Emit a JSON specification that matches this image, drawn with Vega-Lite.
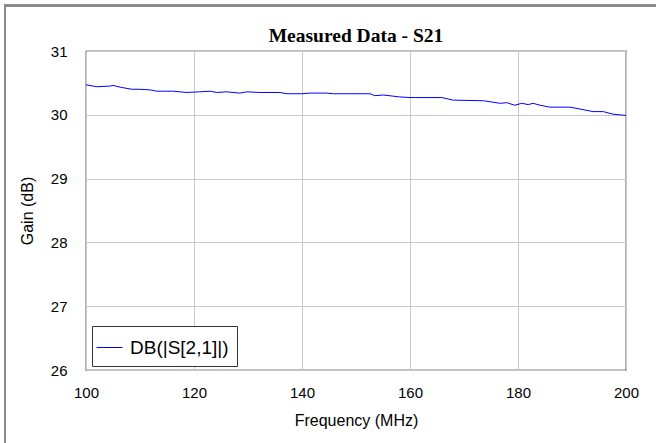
{
  "$schema": "https://vega.github.io/schema/vega-lite/v6.json",
  "width": 540,
  "height": 319,
  "autosize": {"type": "none"},
  "padding": {"left": 86, "top": 51, "right": 30, "bottom": 73},
  "background": "white",
  "title": {
    "text": "Measured Data - S21",
    "font": "Liberation Serif",
    "fontSize": 19.5,
    "fontWeight": "bold",
    "color": "#000",
    "anchor": "middle",
    "offset": -42
  },
  "config": {
    "view": {"stroke": "#000", "strokeWidth": 1.2},
    "axis": {
      "labelFont": "Liberation Sans",
      "titleFont": "Liberation Sans",
      "labelFontSize": 15,
      "titleFontSize": 16,
      "titleFontWeight": "normal",
      "labelColor": "#000",
      "titleColor": "#000",
      "grid": true,
      "gridColor": "#c8c8c8",
      "gridWidth": 1,
      "gridOpacity": 1,
      "labelFlush": false,
      "ticks": false,
      "domain": false
    }
  },
  "data": {
    "values": [
      {"f": 100, "g": 30.47, "series": "DB(|S[2,1]|)"},
      {"f": 102, "g": 30.44, "series": "DB(|S[2,1]|)"},
      {"f": 104.4, "g": 30.45, "series": "DB(|S[2,1]|)"},
      {"f": 105, "g": 30.46, "series": "DB(|S[2,1]|)"},
      {"f": 106.5, "g": 30.43, "series": "DB(|S[2,1]|)"},
      {"f": 108.5, "g": 30.4, "series": "DB(|S[2,1]|)"},
      {"f": 110, "g": 30.4, "series": "DB(|S[2,1]|)"},
      {"f": 111.9, "g": 30.39, "series": "DB(|S[2,1]|)"},
      {"f": 113.1, "g": 30.37, "series": "DB(|S[2,1]|)"},
      {"f": 116.2, "g": 30.37, "series": "DB(|S[2,1]|)"},
      {"f": 118.6, "g": 30.35, "series": "DB(|S[2,1]|)"},
      {"f": 121.1, "g": 30.36, "series": "DB(|S[2,1]|)"},
      {"f": 123, "g": 30.37, "series": "DB(|S[2,1]|)"},
      {"f": 124.2, "g": 30.35, "series": "DB(|S[2,1]|)"},
      {"f": 126, "g": 30.36, "series": "DB(|S[2,1]|)"},
      {"f": 128.5, "g": 30.34, "series": "DB(|S[2,1]|)"},
      {"f": 129.8, "g": 30.36, "series": "DB(|S[2,1]|)"},
      {"f": 132.2, "g": 30.35, "series": "DB(|S[2,1]|)"},
      {"f": 135.9, "g": 30.35, "series": "DB(|S[2,1]|)"},
      {"f": 137.2, "g": 30.33, "series": "DB(|S[2,1]|)"},
      {"f": 139.9, "g": 30.33, "series": "DB(|S[2,1]|)"},
      {"f": 141.5, "g": 30.34, "series": "DB(|S[2,1]|)"},
      {"f": 144.6, "g": 30.34, "series": "DB(|S[2,1]|)"},
      {"f": 145.8, "g": 30.33, "series": "DB(|S[2,1]|)"},
      {"f": 150.7, "g": 30.33, "series": "DB(|S[2,1]|)"},
      {"f": 152.6, "g": 30.33, "series": "DB(|S[2,1]|)"},
      {"f": 153.5, "g": 30.3, "series": "DB(|S[2,1]|)"},
      {"f": 155.1, "g": 30.31, "series": "DB(|S[2,1]|)"},
      {"f": 158.1, "g": 30.28, "series": "DB(|S[2,1]|)"},
      {"f": 160, "g": 30.27, "series": "DB(|S[2,1]|)"},
      {"f": 165.9, "g": 30.27, "series": "DB(|S[2,1]|)"},
      {"f": 168, "g": 30.23, "series": "DB(|S[2,1]|)"},
      {"f": 173.6, "g": 30.22, "series": "DB(|S[2,1]|)"},
      {"f": 176.7, "g": 30.18, "series": "DB(|S[2,1]|)"},
      {"f": 177.9, "g": 30.19, "series": "DB(|S[2,1]|)"},
      {"f": 179.4, "g": 30.15, "series": "DB(|S[2,1]|)"},
      {"f": 180.7, "g": 30.18, "series": "DB(|S[2,1]|)"},
      {"f": 181.9, "g": 30.16, "series": "DB(|S[2,1]|)"},
      {"f": 182.8, "g": 30.18, "series": "DB(|S[2,1]|)"},
      {"f": 184.1, "g": 30.15, "series": "DB(|S[2,1]|)"},
      {"f": 185.9, "g": 30.12, "series": "DB(|S[2,1]|)"},
      {"f": 189.6, "g": 30.12, "series": "DB(|S[2,1]|)"},
      {"f": 191.5, "g": 30.09, "series": "DB(|S[2,1]|)"},
      {"f": 193.9, "g": 30.05, "series": "DB(|S[2,1]|)"},
      {"f": 195.8, "g": 30.05, "series": "DB(|S[2,1]|)"},
      {"f": 197.6, "g": 30.01, "series": "DB(|S[2,1]|)"},
      {"f": 200, "g": 29.99, "series": "DB(|S[2,1]|)"}
    ]
  },
  "layer": [
    {
      "mark": {"type": "line", "strokeWidth": 1, "interpolate": "linear"},
      "encoding": {
        "x": {
          "field": "f",
          "type": "quantitative",
          "scale": {"domain": [100, 200], "nice": false, "zero": false},
          "axis": {
            "title": "Frequency (MHz)",
            "values": [100, 120, 140, 160, 180, 200],
            "format": "d",
            "grid": true,
            "labelFlush": false,
            "labelPadding": 15,
            "titlePadding": 12
          }
        },
        "y": {
          "field": "g",
          "type": "quantitative",
          "scale": {"domain": [26, 31], "nice": false, "zero": false},
          "axis": {
            "title": "Gain (dB)",
            "values": [26, 27, 28, 29, 30, 31],
            "format": "d",
            "grid": true,
            "labelFlush": false,
            "labelPadding": 19,
            "titlePadding": 15
          }
        },
        "color": {
          "field": "series",
          "type": "nominal",
          "scale": {"range": ["#0000ff"]},
          "legend": {
            "title": null,
            "orient": "none",
            "legendX": 6,
            "legendY": 275,
            "fillColor": "#ffffff",
            "strokeColor": "#333333",
            "padding": 8,
            "symbolType": "stroke",
            "symbolSize": 676,
            "symbolStrokeWidth": 1,
            "symbolOffset": -4,
            "labelFont": "Liberation Sans",
            "labelFontSize": 19,
            "labelColor": "#000",
            "labelOffset": 7
          }
        }
      }
    },
    {
      "mark": {"type": "rect", "fillOpacity": 0, "stroke": "#8a8a8a", "strokeWidth": 1.5, "clip": false},
      "encoding": {
        "x": {"datum": 85, "type": "quantitative", "scale": {"domain": [100, 200], "nice": false, "zero": false}},
        "x2": {"datum": 230},
        "y": {"datum": 31.713, "type": "quantitative", "scale": {"domain": [26, 31], "nice": false, "zero": false}},
        "y2": {"datum": 20}
      }
    }
  ]
}
